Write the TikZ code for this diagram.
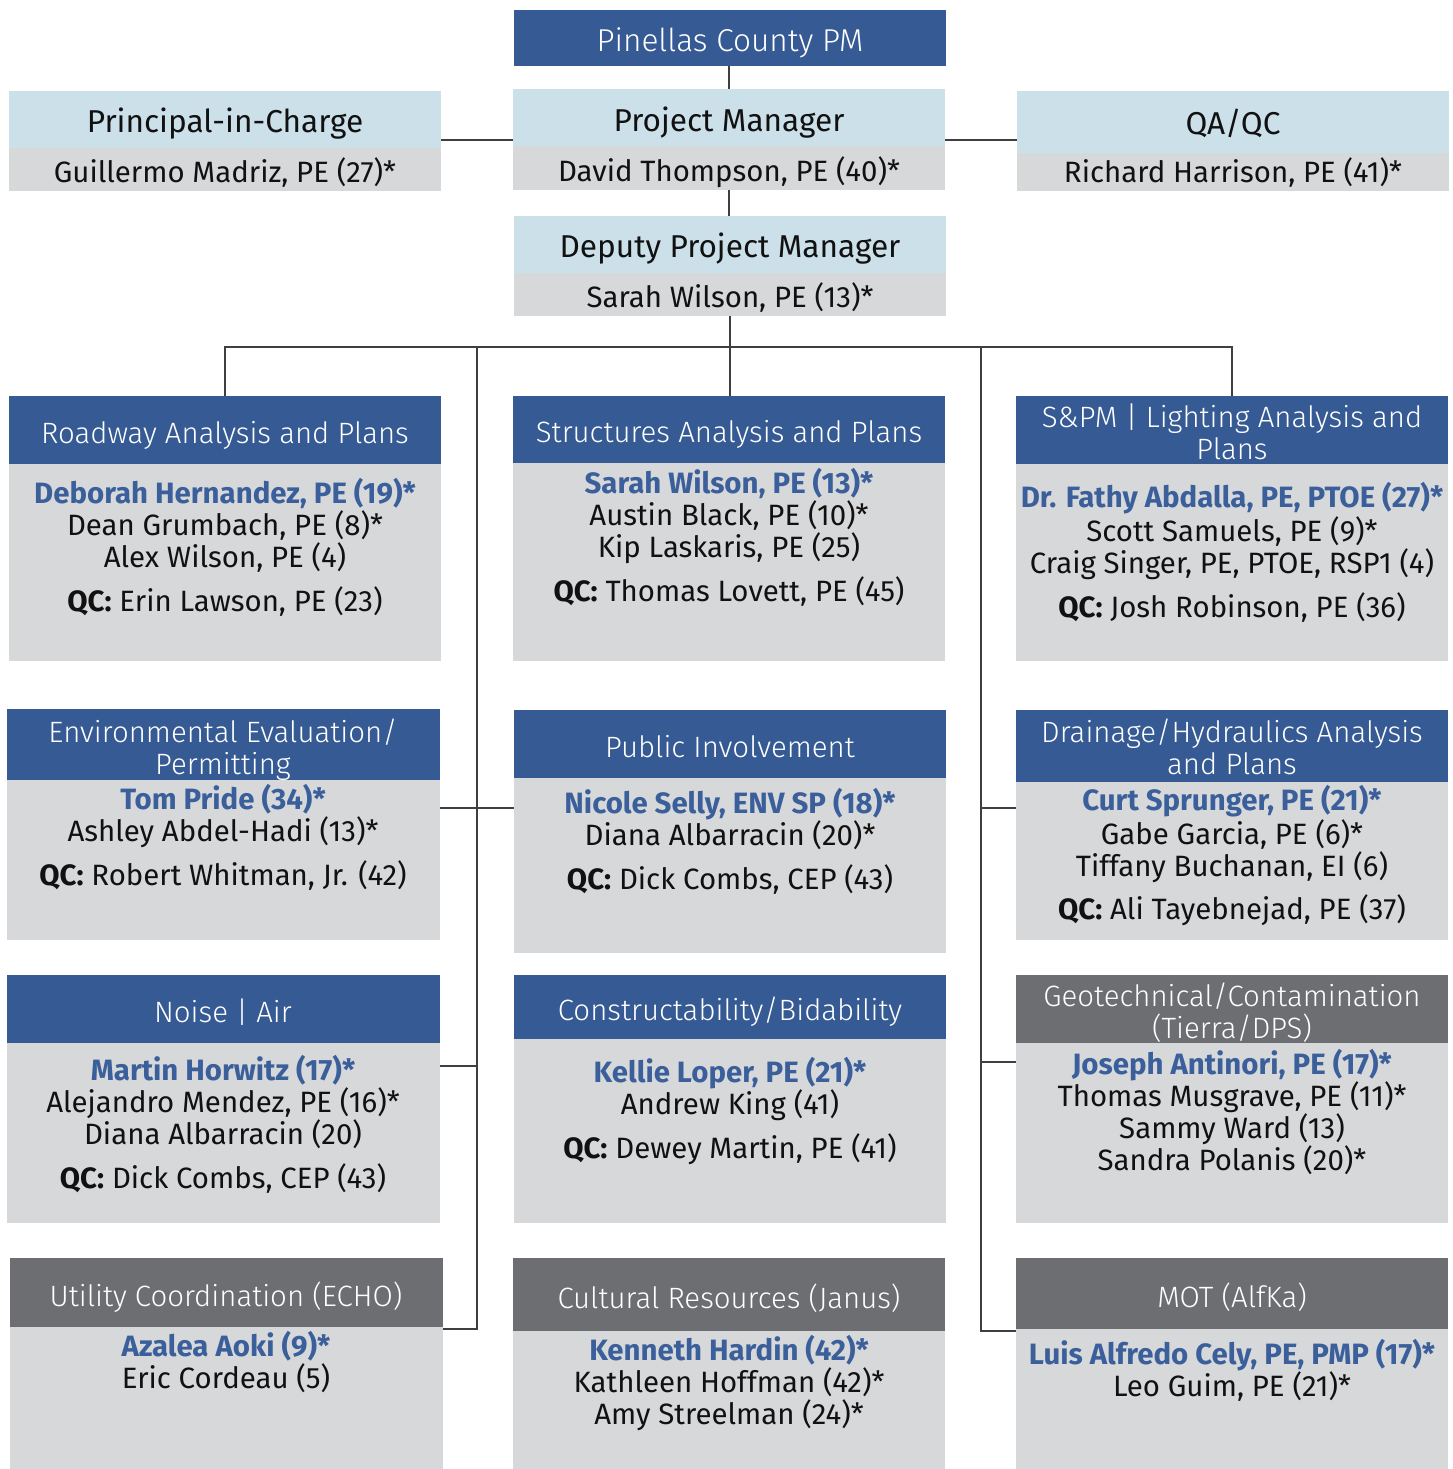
\documentclass[tikz,border=0pt]{standalone}
\usepackage{graphicx}
\usepackage{fontspec}
\setmainfont{Fira Sans}
\newfontfamily\lightfont{Fira Sans Light}
\definecolor{hdrblue}{HTML}{365A93}
\definecolor{ltblue}{HTML}{CCE0EA}
\definecolor{bodygray}{HTML}{D7D8DA}
\definecolor{dkgray}{HTML}{6D6E71}
\definecolor{namblue}{HTML}{3A5F9A}
\definecolor{linegray}{HTML}{3F3F3F}
\definecolor{txtblack}{HTML}{111111}
\newcommand\bodyfs{\fontsize{29.4}{34}\selectfont}
\newcommand\topfs{\fontsize{31.6}{36}\selectfont}
\newcommand\tln[5]{\node[#1] (#2) at (#3,#4+11.5) {#5};}
\newcommand\bn[1]{#1}
\begin{document}
\begin{tikzpicture}[x=1pt,y=-1pt,
 box/.style={rectangle, inner sep=0, outer sep=0, anchor=north west, draw=none},
 hb/.style={box, fill=hdrblue},
 hg/.style={box, fill=dkgray},
 hl/.style={box, fill=ltblue},
 bd/.style={box, fill=bodygray},
 tx/.style={inner sep=0, anchor=base, font=\bodyfs, text=txtblack},
 tt/.style={tx, font=\topfs},
 wt/.style={tx, text=white, font=\bodyfs\lightfont},
 wtt/.style={tx, text=white, font=\topfs\lightfont},
 nm/.style={tx, text=namblue, font=\bodyfs\bfseries},
 conn/.style={draw=linegray, line width=1.6pt}]
\useasboundingbox (0,0) rectangle (1452,1469);

% ---------- top ----------
\node[hb, minimum width=432, minimum height=56] (county) at (514,10) {};
\tln{wtt}{countyt}{730}{40}{Pinellas County PM}

\node[hl, minimum width=432, minimum height=57] (pmh) at (513,89) {};
\node[bd, minimum width=432, minimum height=44] (pmb) at (513,146) {};
\tln{tt}{pmt}{729}{120}{Project Manager}
\tln{tx}{pmn}{729}{170}{David Thompson, PE (40)*}

\node[hl, minimum width=432, minimum height=57] (pich) at (9,91) {};
\node[bd, minimum width=432, minimum height=43] (picb) at (9,148) {};
\tln{tt}{pict}{225}{121}{Principal-in-Charge}
\tln{tx}{picn}{225}{171}{Guillermo Madriz, PE (27)*}

\node[hl, minimum width=432, minimum height=62] (qah) at (1017,91) {};
\node[bd, minimum width=432, minimum height=38] (qab) at (1017,153) {};
\tln{tt}{qat}{1233}{123}{QA/QC}
\tln{tx}{qan}{1233}{171}{Richard Harrison, PE (41)*}

\node[hl, minimum width=432, minimum height=57] (deph) at (514,216) {};
\node[bd, minimum width=432, minimum height=43] (depb) at (514,273) {};
\tln{tt}{dept}{730}{246}{Deputy Project Manager}
\tln{tx}{depn}{730}{296}{Sarah Wilson, PE (13)*}

% ---------- row 1 ----------
\node[hb, minimum width=432, minimum height=68] (roadh) at (9,396) {};
\node[bd, minimum width=432, minimum height=197] (roadb) at (9,464) {};
\tln{wt}{roadt}{225}{432}{Roadway Analysis and Plans}
\tln{nm}{road1}{225}{492}{\bn{Deborah Hernandez, PE (19)*}}
\tln{tx}{road2}{225}{524}{Dean Grumbach, PE (8)*}
\tln{tx}{road3}{225}{556}{Alex Wilson, PE (4)}
\tln{tx}{road4}{225}{600}{\textbf{QC:} Erin Lawson, PE (23)}

\node[hb, minimum width=432, minimum height=67] (strh) at (513,396) {};
\node[bd, minimum width=432, minimum height=198] (strb) at (513,463) {};
\tln{wt}{strt}{729}{431}{Structures Analysis and Plans}
\tln{nm}{str1}{729}{482}{\bn{Sarah Wilson, PE (13)*}}
\tln{tx}{str2}{729}{514}{Austin Black, PE (10)*}
\tln{tx}{str3}{729}{546}{Kip Laskaris, PE (25)}
\tln{tx}{str4}{729}{590}{\textbf{QC:} Thomas Lovett, PE (45)}

\node[hb, minimum width=432, minimum height=68] (spmh) at (1016,396) {};
\node[bd, minimum width=432, minimum height=197] (spmb) at (1016,464) {};
\tln{wt}{spmt1}{1232}{416}{S\&PM | Lighting Analysis and}
\tln{wt}{spmt2}{1232}{448}{Plans}
\tln{nm}{spm1}{1232}{496}{\bn{Dr. Fathy Abdalla, PE, PTOE (27)*}}
\tln{tx}{spm2}{1232}{530}{Scott Samuels, PE (9)*}
\tln{tx}{spm3}{1232}{562}{Craig Singer, PE, PTOE, RSP1 (4)}
\tln{tx}{spm4}{1232}{606}{\textbf{QC:} Josh Robinson, PE (36)}

% ---------- row 2 ----------
\node[hb, minimum width=433, minimum height=71] (envh) at (7,709) {};
\node[bd, minimum width=433, minimum height=160] (envb) at (7,780) {};
\tln{wt}{envt1}{223}{731}{Environmental Evaluation/}
\tln{wt}{envt2}{223}{763}{Permitting}
\tln{nm}{env1}{223}{798}{\bn{Tom Pride (34)*}}
\tln{tx}{env2}{223}{830}{Ashley Abdel-Hadi (13)*}
\tln{tx}{env3}{223}{874}{\textbf{QC:} Robert Whitman, Jr. (42)}

\node[hb, minimum width=432, minimum height=68] (pubh) at (514,710) {};
\node[bd, minimum width=432, minimum height=175] (pubb) at (514,778) {};
\tln{wt}{pubt}{730}{746}{Public Involvement}
\tln{nm}{pub1}{730}{802}{\bn{Nicole Selly, ENV SP (18)*}}
\tln{tx}{pub2}{730}{834}{Diana Albarracin (20)*}
\tln{tx}{pub3}{730}{878}{\textbf{QC:} Dick Combs, CEP (43)}

\node[hb, minimum width=432, minimum height=72] (drnh) at (1016,710) {};
\node[bd, minimum width=432, minimum height=158] (drnb) at (1016,782) {};
\tln{wt}{drnt1}{1232}{731}{Drainage/Hydraulics Analysis}
\tln{wt}{drnt2}{1232}{763}{and Plans}
\tln{nm}{drn1}{1232}{799}{\bn{Curt Sprunger, PE (21)*}}
\tln{tx}{drn2}{1232}{833}{Gabe Garcia, PE (6)*}
\tln{tx}{drn3}{1232}{865}{Tiffany Buchanan, EI (6)}
\tln{tx}{drn4}{1232}{908}{\textbf{QC:} Ali Tayebnejad, PE (37)}

% ---------- row 3 ----------
\node[hb, minimum width=433, minimum height=68] (noih) at (7,975) {};
\node[bd, minimum width=433, minimum height=180] (noib) at (7,1043) {};
\tln{wt}{noit}{223}{1011}{Noise | Air}
\tln{nm}{noi1}{223}{1069}{\bn{Martin Horwitz (17)*}}
\tln{tx}{noi2}{223}{1101}{Alejandro Mendez, PE (16)*}
\tln{tx}{noi3}{223}{1133}{Diana Albarracin (20)}
\tln{tx}{noi4}{223}{1177}{\textbf{QC:} Dick Combs, CEP (43)}

\node[hb, minimum width=432, minimum height=64] (conh) at (514,975) {};
\node[bd, minimum width=432, minimum height=184] (conb) at (514,1039) {};
\tln{wt}{cont}{730}{1009}{Constructability/Bidability}
\tln{nm}{con1}{730}{1071}{\bn{Kellie Loper, PE (21)*}}
\tln{tx}{con2}{730}{1103}{Andrew King (41)}
\tln{tx}{con3}{730}{1147}{\textbf{QC:} Dewey Martin, PE (41)}

\node[hg, minimum width=432, minimum height=68] (geoh) at (1016,975) {};
\node[bd, minimum width=432, minimum height=180] (geob) at (1016,1043) {};
\tln{wt}{geot1}{1232}{995}{Geotechnical/Contamination}
\tln{wt}{geot2}{1232}{1027}{(Tierra/DPS)}
\tln{nm}{geo1}{1232}{1063}{\bn{Joseph Antinori, PE (17)*}}
\tln{tx}{geo2}{1232}{1095}{Thomas Musgrave, PE (11)*}
\tln{tx}{geo3}{1232}{1127}{Sammy Ward (13)}
\tln{tx}{geo4}{1232}{1159}{Sandra Polanis (20)*}

% ---------- row 4 ----------
\node[hg, minimum width=433, minimum height=69] (utih) at (10,1258) {};
\node[bd, minimum width=433, minimum height=142] (utib) at (10,1327) {};
\tln{wt}{utit}{226}{1295}{Utility Coordination (ECHO)}
\tln{nm}{uti1}{226}{1345}{\bn{Azalea Aoki (9)*}}
\tln{tx}{uti2}{226}{1377}{Eric Cordeau (5)}

\node[hg, minimum width=432, minimum height=73] (culh) at (513,1258) {};
\node[bd, minimum width=432, minimum height=138] (culb) at (513,1331) {};
\tln{wt}{cult}{729}{1297}{Cultural Resources (Janus)}
\tln{nm}{cul1}{729}{1349}{\bn{Kenneth Hardin (42)*}}
\tln{tx}{cul2}{729}{1381}{Kathleen Hoffman (42)*}
\tln{tx}{cul3}{729}{1413}{Amy Streelman (24)*}

\node[hg, minimum width=432, minimum height=71] (moth) at (1016,1258) {};
\node[bd, minimum width=432, minimum height=140] (motb) at (1016,1329) {};
\tln{wt}{mott}{1232}{1296}{MOT (AlfKa)}
\tln{nm}{mot1}{1232}{1353}{\bn{Luis Alfredo Cely, PE, PMP (17)*}}
\tln{tx}{mot2}{1232}{1385}{Leo Guim, PE (21)*}

% ---------- connectors ----------
\coordinate (lvpm) at (0,140);
\coordinate (bus) at (730,347);
\coordinate (trl) at (477,347);
\coordinate (trr) at (981,347);
\coordinate (lv2) at (0,808);
\coordinate (lv3l) at (0,1066);
\coordinate (lv3r) at (0,1062);
\coordinate (lv4l) at (0,1329);
\coordinate (lv4r) at (0,1331);

\draw[conn] (county.south -| pmh.north) -- (pmh.north);
\draw[conn] (pich.east |- lvpm) -- (pmh.west |- lvpm);
\draw[conn] (pmh.east |- lvpm) -- (qah.west |- lvpm);
\draw[conn] (pmb.south) -- (pmb.south |- deph.north);
\draw[conn] (depb.south) -- (bus);
\draw[conn] (roadh.north) |- (bus) -| (spmh.north);
\draw[conn] (bus) -- (bus |- strh.north);
\draw[conn] (trl) -- (trl |- lv4l) -- (utih.east |- lv4l);
\draw[conn] (trr) -- (trr |- lv4r) -- (moth.west |- lv4r);
\draw[conn] (envb.east |- lv2) -- (pubb.west |- lv2);
\draw[conn] (trr |- lv2) -- (drnb.west |- lv2);
\draw[conn] (noib.east |- lv3l) -- (trl |- lv3l);
\draw[conn] (trr |- lv3r) -- (geob.west |- lv3r);
\end{tikzpicture}
\end{document}
